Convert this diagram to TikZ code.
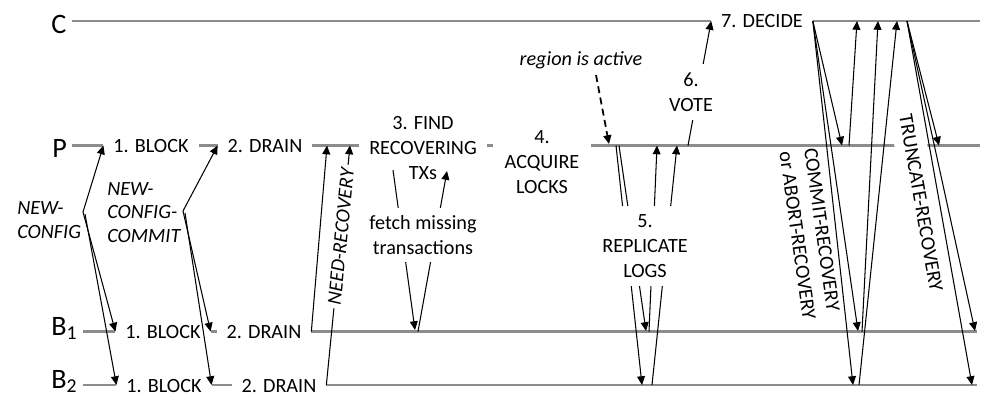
\documentclass[tikz,border=0pt]{standalone}
\usepackage{fontspec}
\setmainfont{Carlito}
\usetikzlibrary{arrows.meta,positioning}

\tikzset{
    proc/.style={font=\fontsize{16}{18}\selectfont, inner sep=0pt, anchor=base west},
    stage/.style={font=\fontsize{11.5}{14.2}\selectfont, align=center, inner xsep=5.5pt, inner ysep=0pt},
    msglbl/.style={font=\fontsize{11.5}{13.6}\selectfont\itshape, align=left, inner sep=0pt},
    tline/.style={line width=1.2pt, black!45},
    msg/.style={line width=0.6pt, -{Triangle[length=5pt,width=4.5pt]}},
}

\begin{document}
\begin{tikzpicture}[x=0.02cm, y=-0.02cm]
    \useasboundingbox (0,0) rectangle (1000,414);

    % rows
    \coordinate (rowC) at (0,21);
    \coordinate (rowP) at (0,145.5);
    \coordinate (rowB1) at (0,331.5);
    \coordinate (rowB2) at (0,385);

    % processes
    \node[proc] (C) at (51,33) {C};
    \node[proc] (P) at (52,157) {P};
    \node[proc] (B1) at (51,335) {B\textsubscript{1}};
    \node[proc] (B2) at (51,388) {B\textsubscript{2}};

    % stages on P
    \node[stage] (pblk) at (151,146) {1. BLOCK};
    \node[stage] (pdrn) at (265,146) {2. DRAIN};
    \node[stage] (pfind) at (423,148) {3. FIND\\RECOVERING\\TXs};
    \node[stage, inner xsep=6.5pt] (placq) at (542,162) {4.\\ACQUIRE\\LOCKS};

    % stages on B1 and B2
    \node[stage] (b1blk) at (163,332) {1. BLOCK};
    \node[stage] (b1drn) at (264,332) {2. DRAIN};
    \node[stage] (b2blk) at (164,386) {1. BLOCK};
    \node[stage] (b2drn) at (279,386) {2. DRAIN};

    % stage on C
    \node[stage] (cdec) at (762,21) {7. DECIDE};

    % timelines
    \draw[tline, line width=0.8pt] ([xshift=1mm]C.east |- rowC) -- (cdec.west |- rowC)
        (cdec.east |- rowC) -- (980,21);
    \draw[tline] ([xshift=1mm]P.east |- rowP) -- (pblk.west |- rowP)
        (pblk.east |- rowP) -- (pdrn.west |- rowP)
        (pdrn.east |- rowP) -- (pfind.west |- rowP)
        (pfind.east |- rowP) -- (placq.west |- rowP)
        (placq.east |- rowP) -- (980,145.5);
    \draw[tline] ([xshift=1mm]B1.east |- rowB1) -- (b1blk.west |- rowB1)
        (b1blk.east |- rowB1) -- (b1drn.west |- rowB1)
        (b1drn.east |- rowB1) -- (977,331.5);
    \draw[tline] ([xshift=1mm]B2.east |- rowB2) -- (b2blk.west |- rowB2)
        (b2blk.east |- rowB2) -- (b2drn.west |- rowB2)
        (b2drn.east |- rowB2) -- (977,385);

    % NEW-CONFIG
    \node[msglbl, anchor=west] (newcfg) at (17,220) {NEW-\\CONFIG};
    \coordinate (ncfg) at (83,212);
    \draw[msg] (ncfg) -- (pblk.west |- rowP);
    \draw[msg] (ncfg) -- (b1blk.west |- rowB1);
    \draw[msg] ([shift={(2,2)}]ncfg) -- (b2blk.west |- rowB2);

    % NEW-CONFIG-COMMIT
    \node[msglbl, anchor=west] (newcmt) at (107,212.5) {NEW-\\CONFIG-\\COMMIT};
    \coordinate (nccm) at (183,211);
    \draw[msg] (nccm) -- (pdrn.west |- rowP);
    \draw[msg] (nccm) -- (b1blk.east |- rowB1);
    \draw[msg] ([shift={(2,2)}]nccm) -- (b2blk.east |- rowB2);

    % NEED-RECOVERY
    \coordinate (nrec1) at (327,145.5);
    \coordinate (nrec2) at (350,145.5);
    \draw[msg] (b1drn.east |- rowB1) -- (nrec1);
    \draw[msg] (b2drn.east |- rowB2) -- node[pos=0.62, sloped, msglbl, fill=white, inner xsep=2pt, inner ysep=1pt] (needrec) {NEED-RECOVERY} (nrec2);

    % fetch missing transactions
    \coordinate (fch1) at (393,170);
    \coordinate (fch2) at (415,330);
    \coordinate (fch3) at (418,331.5);
    \coordinate (fch4) at (447,171);
    \draw[msg] (fch1) -- (fch2);
    \draw[msg] (fch3) -- (fch4);
    \node[stage, fill=white, inner xsep=2pt, inner ysep=4pt] (fetch) at (423,235) {fetch missing\\transactions};

    % region is active
    \node[msglbl, anchor=base] (active) at (581,65) {region is active};
    \coordinate (act1) at (596,75);
    \coordinate (act2) at (609,144);
    \draw[msg, line width=1pt, dash pattern=on 4pt off 2.5pt] (act1) -- (act2);

    % 5. replicate logs
    \coordinate (rep1) at (616,145.5);
    \coordinate (rep2) at (642,385);
    \coordinate (rep3) at (619,145.5);
    \coordinate (rep4) at (646,331);
    \coordinate (rep5) at (649,331.5);
    \coordinate (rep6) at (657,145.5);
    \coordinate (rep7) at (652,385);
    \coordinate (rep8) at (677,145.5);
    \draw[msg] (rep1) -- (rep2);
    \draw[msg] (rep3) -- (rep4);
    \draw[msg] (rep5) -- (rep6);
    \draw[msg] (rep7) -- (rep8);
    \node[stage, fill=white, inner xsep=2pt, inner ysep=5pt] (repl) at (645,246) {5.\\REPLICATE\\LOGS};

    % 6. vote
    \coordinate (vot1) at (688,145.5);
    \draw[msg] (vot1) -- (cdec.west |- rowC);
    \node[stage, fill=white, inner xsep=2pt, inner ysep=5pt] (vote) at (691,92) {6.\\VOTE};

    % 7. decide: commit or abort
    \coordinate (dec) at (cdec.east |- rowC);
    \draw[msg] (dec) -- (842,145.5);
    \draw[msg] (dec) -- (858,331);
    \draw[msg] (dec) -- (853,385);
    \draw[msg] (849,145.5) -- (857,21);
    \draw[msg] (862,331.5) -- (878,21);
    \draw[msg] (859,385) -- (897,21);
    \node[stage, align=left, inner sep=0pt, rotate=-82] (cmt) at (810,234) {COMMIT-RECOVERY\\or ABORT-RECOVERY};

    % truncate
    \coordinate (trc) at (907,21);
    \draw[msg] (trc) -- (939,145.5);
    \draw[msg] (trc) -- (975,331);
    \draw[msg] (trc) -- (972,385);
    \node[stage, fill=white, inner xsep=2pt, inner ysep=5.5pt, rotate=-80] (trunc) at (921,203) {TRUNCATE-RECOVERY};
\end{tikzpicture}
\end{document}
